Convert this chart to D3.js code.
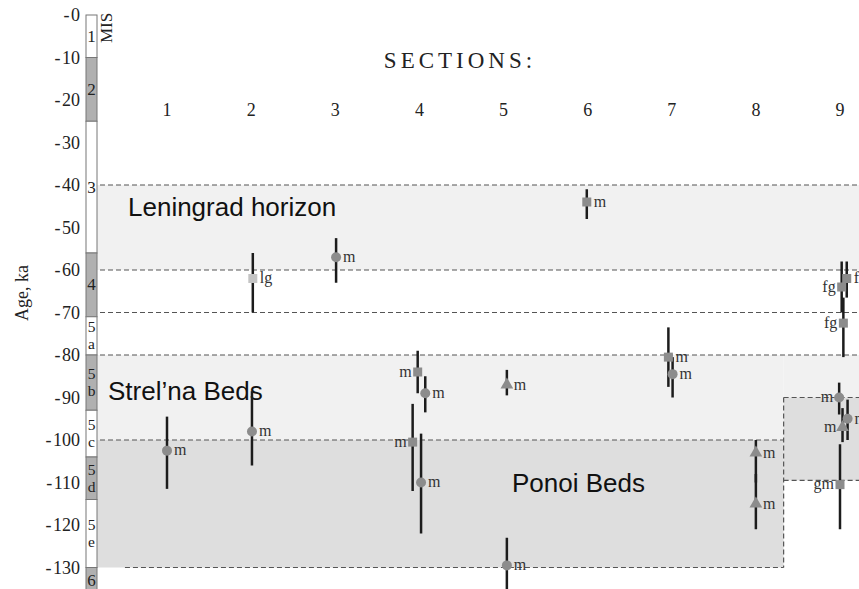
<!DOCTYPE html>
<html>
<head>
<meta charset="utf-8">
<script src="https://cdn.jsdelivr.net/npm/d3@7"></script>
<style>
body { margin: 0; background: #fff; }
</style>
</head>
<body>
<div id="chart"></div>
<script>
// sections and age ticks (ka)
let sectionNums = [1, 2, 3, 4, 5, 6, 7, 8, 9];
let ageTicks = [0, 10, 20, 30, 40, 50, 60, 70, 80, 90, 100, 110, 120, 130];

// marine isotope stages
let misLabels = ["1", "2", "3", "4", "5a", "5b", "5c", "5d", "5e", "6"];
let misFrom = [0, 10, 25, 56, 71, 80, 93, 104, 114, 130];
let misTo = [10, 25, 56, 71, 80, 93, 104, 114, 130, 137];
let misCold = [false, true, false, true, false, true, false, true, false, true];

// dated samples: position along section axis, age, error bar, marker, facies
let ptSection = [1.0, 2.01, 2.02, 3.01, 3.92, 3.98, 4.02, 4.07, 5.04, 5.04, 5.99,
                 6.96, 7.01, 8.0, 8.0, 9.02, 9.08, 9.04, 8.99, 9.09, 9.03, 9.0];
let ptAge = [102.5, 98, 62, 57, 100.5, 84, 110, 89, 87, 129.5, 44,
             80.5, 84.5, 103, 115, 64, 62, 72.5, 90, 95, 97, 110.5];
let ptLow = [94.5, 88.5, 56, 52.5, 91.5, 79, 98.5, 85, 83.5, 123, 41,
             73.5, 80.5, 100, 108, 58, 58, 66.5, 86.5, 90.5, 92.5, 101];
let ptHigh = [111.5, 106, 70, 63, 112, 89, 122, 93.5, 89.5, 140, 48,
              87.5, 90, 110, 121, 70, 66.5, 80.5, 94, 100, 100.5, 121];
let ptMarker = ["circle", "circle", "lsquare", "circle", "square", "square", "circle", "circle", "triangle", "circle", "square",
                "square", "circle", "triangle", "triangle", "square", "square", "square", "circle", "circle", "triangle", "square"];
let ptLabel = ["m", "m", "lg", "m", "m", "m", "m", "m", "m", "m", "m",
               "m", "m", "m", "m", "fg", "fg", "fg", "m", "m", "m", "gm"];
let ptSide = ["r", "r", "r", "r", "l", "l", "r", "r", "r", "r", "r",
              "r", "r", "r", "r", "l", "r", "l", "l", "r", "l", "l"];

// stratigraphic units
let unitNames = ["Leningrad horizon", "Strel\u2019na Beds", "Ponoi Beds"];
let unitTop = [40, 80, 100];
let unitBottom = [60, 100, 130];
let box9Top = 90, box9Bottom = 109.5;

let width = 859, height = 589;

let svg = d3.select("#chart").append("svg")
    .attr("width", width)
    .attr("height", height);

let x = d3.scaleLinear().domain([1, 9]).range([167, 840]);
let y = d3.scaleLinear().domain([0, 130]).range([15, 567.5]);

let serif = "'Liberation Serif', 'Times New Roman', serif";
let sans = "'Liberation Sans', Arial, sans-serif";
let colLeft = 86, colRight = 97;
let split = x(8.33);

// background bands
let bands = svg.append("g");
bands.append("rect").attr("x", colRight).attr("width", width - colRight)
    .attr("y", y(unitTop[0])).attr("height", y(unitBottom[0]) - y(unitTop[0]))
    .attr("fill", "#f1f1f1");
bands.append("rect").attr("x", colRight).attr("width", split - colRight)
    .attr("y", y(unitTop[1])).attr("height", y(unitBottom[1]) - y(unitTop[1]))
    .attr("fill", "#f1f1f1");
bands.append("rect").attr("x", split).attr("width", width - split)
    .attr("y", y(unitTop[1])).attr("height", y(box9Top) - y(unitTop[1]))
    .attr("fill", "#f1f1f1");
bands.append("rect").attr("x", colRight).attr("width", split - colRight)
    .attr("y", y(unitTop[2])).attr("height", y(unitBottom[2]) - y(unitTop[2]))
    .attr("fill", "#dedede");
bands.append("rect").attr("x", split).attr("width", width - split)
    .attr("y", y(box9Top)).attr("height", y(box9Bottom) - y(box9Top))
    .attr("fill", "#dedede");

// dashed boundaries
let dashed = svg.append("g")
    .attr("stroke", "#555")
    .attr("stroke-width", 1.2)
    .attr("stroke-dasharray", "5,3")
    .attr("fill", "none");
[40, 60, 70, 80].forEach(function (a) {
    dashed.append("line").attr("x1", 100).attr("x2", width).attr("y1", y(a)).attr("y2", y(a));
});
dashed.append("line").attr("x1", 100).attr("x2", split).attr("y1", y(100)).attr("y2", y(100));
dashed.append("line").attr("x1", x(0.5)).attr("x2", split).attr("y1", y(130)).attr("y2", y(130));
[box9Top, box9Bottom].forEach(function (a) {
    dashed.append("line").attr("x1", split).attr("x2", width).attr("y1", y(a)).attr("y2", y(a));
});
dashed.append("line").attr("x1", split).attr("x2", split).attr("y1", y(box9Top)).attr("y2", y(130));

// unit names
let unitX = [128, 108, 512];
let unitY = [207, 391, 483];
svg.append("g").selectAll("text")
    .data(unitNames)
    .join("text")
    .attr("x", function (d, i) { return unitX[i]; })
    .attr("y", function (d, i) { return unitY[i]; })
    .attr("dy", "0.35em")
    .attr("font-family", sans)
    .attr("font-size", 26)
    .attr("fill", "#111")
    .text(function (d) { return d; });

// MIS column
let mis = svg.append("g");
mis.selectAll("rect")
    .data(misLabels)
    .join("rect")
    .attr("x", colLeft)
    .attr("width", colRight - colLeft)
    .attr("y", function (d, i) { return y(misFrom[i]); })
    .attr("height", function (d, i) { return y(misTo[i]) - y(misFrom[i]); })
    .attr("fill", function (d, i) { return misCold[i] ? "#b0b0b0" : "#fff"; })
    .attr("stroke", "#777")
    .attr("stroke-width", 1);

// stage labels: digit on top, substage letter under it
let misText = [];
misLabels.forEach(function (d, i) {
    let cy = y((misFrom[i] + Math.min(misTo[i], 136)) / 2);
    if (d.length === 1) {
        misText.push({ t: d, y: cy, s: 17 });
    } else {
        misText.push({ t: d[0], y: cy - 8.5, s: 15.5 });
        misText.push({ t: d[1], y: cy + 8.5, s: 15.5 });
    }
});
mis.selectAll("text")
    .data(misText)
    .join("text")
    .attr("x", (colLeft + colRight) / 2)
    .attr("y", function (d) { return d.y; })
    .attr("dy", "0.33em")
    .attr("text-anchor", "middle")
    .attr("font-family", serif)
    .attr("font-size", function (d) { return d.s; })
    .attr("fill", "#222")
    .text(function (d) { return d.t; });

svg.append("text")
    .attr("transform", "translate(106,28) rotate(-90)")
    .attr("text-anchor", "middle")
    .attr("dy", "0.35em")
    .attr("font-family", serif)
    .attr("font-size", 17)
    .attr("fill", "#222")
    .text("MIS");

// age axis
let yAxis = d3.axisLeft(y)
    .tickValues(ageTicks)
    .tickSize(0)
    .tickPadding(0)
    .tickFormat(function (d) { return "-\u200a" + d; });
let ax = svg.append("g")
    .attr("transform", "translate(80,0)")
    .call(yAxis);
ax.select(".domain").remove();
ax.selectAll("text")
    .attr("font-family", serif)
    .attr("font-size", 18)
    .attr("fill", "#222");

svg.append("text")
    .attr("transform", "translate(22,293) rotate(-90)")
    .attr("text-anchor", "middle")
    .attr("dy", "0.35em")
    .attr("font-family", serif)
    .attr("font-size", 18)
    .attr("fill", "#222")
    .text("Age, ka");

// section header
svg.append("text")
    .attr("x", 460)
    .attr("y", 60)
    .attr("dy", "0.35em")
    .attr("text-anchor", "middle")
    .attr("font-family", serif)
    .attr("font-size", 23)
    .attr("letter-spacing", 4)
    .attr("fill", "#222")
    .text("SECTIONS:");
svg.append("g").selectAll("text")
    .data(sectionNums)
    .join("text")
    .attr("x", function (d) { return x(d); })
    .attr("y", 110)
    .attr("dy", "0.35em")
    .attr("text-anchor", "middle")
    .attr("font-family", serif)
    .attr("font-size", 18)
    .attr("fill", "#222")
    .text(function (d) { return d; });

// error bars
let idx = d3.range(ptAge.length);
svg.append("g").selectAll("line")
    .data(idx)
    .join("line")
    .attr("x1", function (i) { return x(ptSection[i]); })
    .attr("x2", function (i) { return x(ptSection[i]); })
    .attr("y1", function (i) { return y(ptLow[i]); })
    .attr("y2", function (i) { return y(ptHigh[i]); })
    .attr("stroke", "#1c1c1c")
    .attr("stroke-width", 2.5);

// markers
let marks = svg.append("g");
idx.forEach(function (i) {
    let cx = x(ptSection[i]), cy = y(ptAge[i]);
    let m = ptMarker[i];
    if (m === "circle") {
        marks.append("circle").attr("cx", cx).attr("cy", cy).attr("r", 5).attr("fill", "#8c8c8c");
    } else if (m === "triangle") {
        marks.append("path")
            .attr("d", d3.symbol(d3.symbolTriangle).size(70)())
            .attr("transform", "translate(" + cx + "," + cy + ")")
            .attr("fill", "#8c8c8c");
    } else {
        marks.append("rect").attr("x", cx - 4.5).attr("y", cy - 4.5)
            .attr("width", 9).attr("height", 9)
            .attr("fill", m === "lsquare" ? "#c4c4c4" : "#8c8c8c");
    }
});

// facies labels
svg.append("g").selectAll("text")
    .data(idx)
    .join("text")
    .attr("x", function (i) { return x(ptSection[i]) + (ptSide[i] === "r" ? 7 : -6); })
    .attr("y", function (i) { return y(ptAge[i]); })
    .attr("dy", "0.3em")
    .attr("text-anchor", function (i) { return ptSide[i] === "r" ? "start" : "end"; })
    .attr("font-family", serif)
    .attr("font-size", 16)
    .attr("fill", "#333")
    .text(function (i) { return ptLabel[i]; });
</script>
</body>
</html>
